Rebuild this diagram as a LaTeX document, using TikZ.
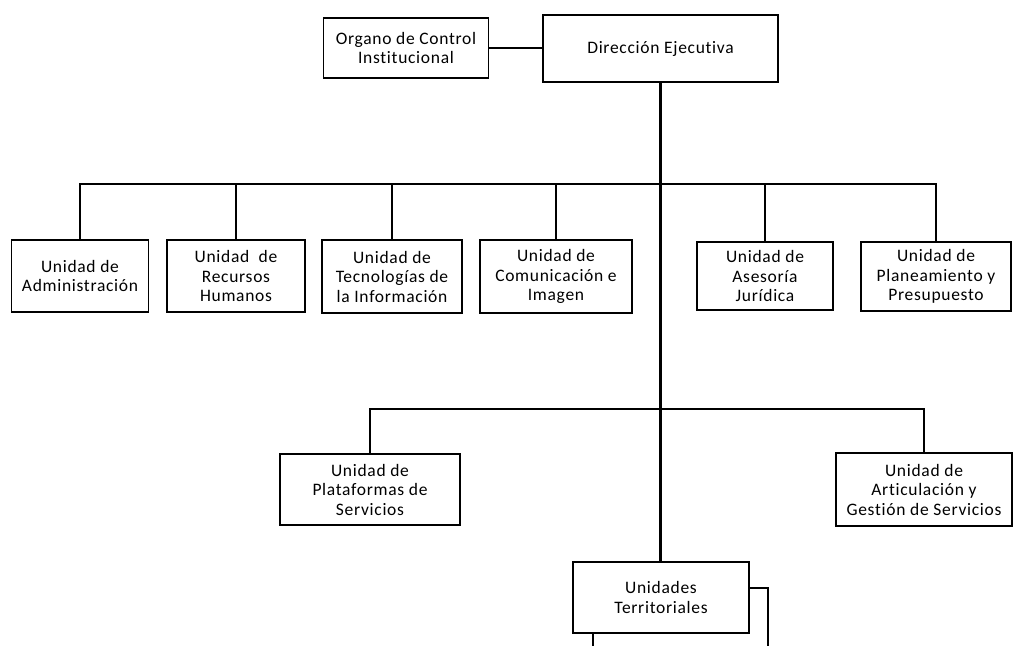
\documentclass[tikz,border=0pt]{standalone}
\usepackage{fontspec}
\setmainfont{Carlito}[LetterSpace=4, Ligatures=NoCommon]
\begin{document}
\begin{tikzpicture}[x=1pt,y=-1pt,
  unit/.style={draw=black, line width=1.3pt, fill=white, align=center, inner sep=0pt,
    font=\fontsize{17.5}{19.5}\selectfont},
  link/.style={line width=1.6pt, black},
  trunk/.style={line width=3pt, black}]
\useasboundingbox (0,0) rectangle (1013,646);

% top level
\node[unit, minimum width=165, minimum height=60] (org) at (406,48) {Organo de Control\\Institucional};
\node[unit, minimum width=235, minimum height=67] (dir) at (660.5,48.5) {Dirección Ejecutiva};

% first row of units
\node[unit, minimum width=137, minimum height=72] (adm) at (80,276) {Unidad de\\Administración};
\node[unit, minimum width=138, minimum height=72] (rrhh) at (236,276) {Unidad\ \ de\\Recursos\\Humanos};
\node[unit, minimum width=140, minimum height=73] (tec) at (392,276.5) {Unidad de\\Tecnologías de\\la Información};
\node[unit, minimum width=152, minimum height=73] (com) at (556,276.5) {Unidad de\\Comunicación e\\Imagen};
\node[unit, minimum width=136, minimum height=68] (ase) at (765,276) {Unidad de\\Asesoría\\Jurídica};
\node[unit, minimum width=150, minimum height=69] (pla) at (936,276.5) {Unidad de\\Planeamiento y\\Presupuesto};

% second row of units
\node[unit, minimum width=180, minimum height=71] (plat) at (370,489.5) {Unidad de\\Plataformas de\\Servicios};
\node[unit, minimum width=176, minimum height=73] (art) at (924,489.5) {Unidad de\\Articulación y\\Gestión de Servicios};
\node[unit, minimum width=176, minimum height=71] (ter) at (661,597.5) {Unidades\\Territoriales};

% bus levels and loose ends
\coordinate (busA) at (660,184);
\coordinate (busB) at (660,409);
\coordinate (endL) at (593,646);
\coordinate (endR) at (768,646);

% connectors
\draw[link] (org.east) -- (org.east -| dir.west);
\foreach \u in {adm,rrhh,tec,com,ase,pla}
  \draw[link] (\u.north) |- (busA);
\foreach \u in {plat,art}
  \draw[link] (\u.north) |- (busB);
\draw[trunk] (dir.south -| busA) -- (ter.north -| busA);
\draw[link] (ter.south -| endL) -- (endL);
\draw[link] ([yshift=9.5pt]ter.east) -| (endR);
\end{tikzpicture}
\end{document}
